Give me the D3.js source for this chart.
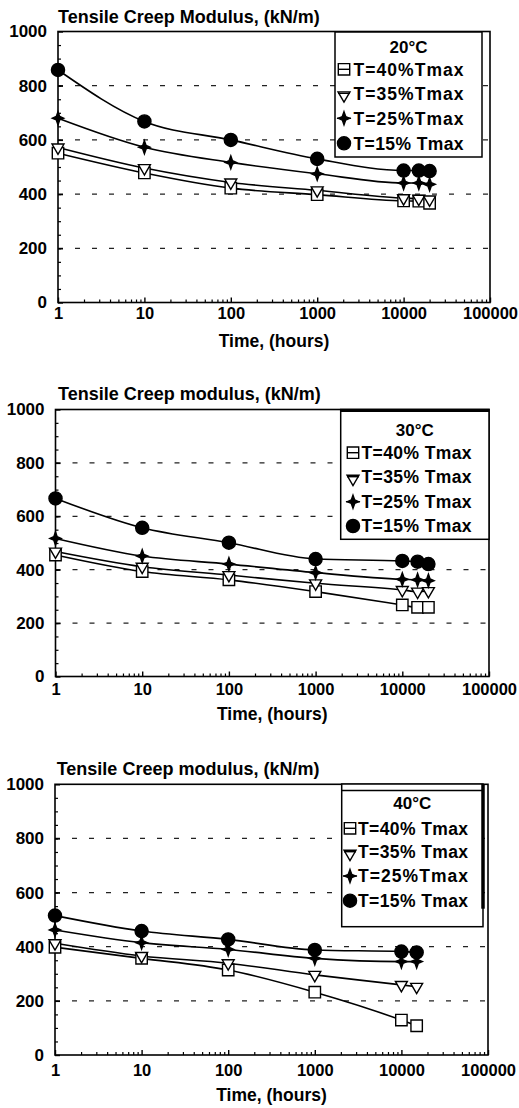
<!DOCTYPE html>
<html>
<head>
<meta charset="utf-8">
<script src="https://cdn.jsdelivr.net/npm/d3@7"></script>
<style>
  html, body { margin: 0; padding: 0; background: #fff; }
  svg { display: block; font-family: "Liberation Sans", Arial, Helvetica, sans-serif; font-weight: bold; }
</style>
</head>
<body>
<svg id="chart" width="519" height="1108"></svg>
<script>
// Elapsed time of each reading (hours)
const hours20 = [1, 10, 100, 1000, 10000, 15000, 20000];
const hours30 = [1, 10, 100, 1000, 10000, 15000, 20000];
const hours40 = [1, 10, 100, 1000, 10000, 15000];

// Tensile creep modulus (kN/m) at 20°C for each load level
const mod20_load40 = [551, 478, 422, 398, 375, 374, 366];
const mod20_load35 = [572, 496, 443, 414, 385, 383, 380];
const mod20_load25 = [680, 573, 517, 475, 441, 441, 436];
const mod20_load15 = [858, 668, 600, 530, 487, 487, 485];

// Tensile creep modulus (kN/m) at 30°C
const mod30_load40 = [455, 393, 362, 318, 268, 259, 259];
const mod30_load35 = [468, 411, 380, 349, 324, 318, 320];
const mod30_load25 = [517, 451, 421, 389, 364, 362, 359];
const mod30_load15 = [667, 557, 501, 440, 433, 430, 421];

// Tensile creep modulus (kN/m) at 40°C
const mod40_load40 = [398, 357, 314, 232, 129, 108];
const mod40_load35 = [413, 366, 339, 296, 259, 252];
const mod40_load25 = [462, 415, 390, 357, 345, 345];
const mod40_load15 = [515, 458, 427, 388, 382, 379];

// Axis ticks
const xTickValues = [1, 10, 100, 1000, 10000, 100000];
const xTickLabels = ["1", "10", "100", "1000", "10000", "100000"];
const yTickValues = [0, 200, 400, 600, 800, 1000];
const yTickLabels = ["0", "200", "400", "600", "800", "1000"];
const gridValues = [200, 400, 600, 800];

// Text
const headings = ["20°C", "30°C", "40°C"];
const yTitles = ["Tensile Creep Modulus, (kN/m)", "Tensile Creep modulus, (kN/m)", "Tensile Creep modulus, (kN/m)"];
const xTitle = "Time, (hours)";
const legend20 = ["T=40%Tmax", "T=35%Tmax", "T=25%Tmax", "T=15% Tmax"];
const legend30 = ["T=40% Tmax", "T=35% Tmax", "T=25% Tmax", "T=15% Tmax"];
const legend40 = ["T=40% Tmax", "T=35% Tmax", "T=25%Tmax", "T=15% Tmax"];

// Four-pointed star marker
const symbolStar4 = {
  draw(ctx, size) {
    const r = Math.sqrt(size) * 0.62;
    const ri = r * 0.3;
    ctx.moveTo(0, -r * 1.15);
    ctx.lineTo(ri, -ri);
    ctx.lineTo(r, 0);
    ctx.lineTo(ri, ri);
    ctx.lineTo(0, r * 1.15);
    ctx.lineTo(-ri, ri);
    ctx.lineTo(-r, 0);
    ctx.lineTo(-ri, -ri);
    ctx.closePath();
  }
};

// Marker styles, in drawing order (40 %, 35 %, 25 %, 15 %)
const markerStyles = [
  { type: d3.symbolSquare, size: 130, fill: "#fff", rotate: 0 },
  { type: d3.symbolTriangle, size: 62, fill: "#fff", rotate: 180 },
  { type: symbolStar4, size: 85, fill: "#000", rotate: 0 },
  { type: d3.symbolCircle, size: 135, fill: "#000", rotate: 0 }
];

const panels = [
  {
    hours: hours20,
    series: [mod20_load40, mod20_load35, mod20_load25, mod20_load15],
    labels: legend20, heading: headings[0], title: yTitles[0],
    box: { left: 58, right: 490, top: 31.5, bottom: 302.5 },
    titleX: 58, titleY: 22.5,
    tickPadX: 5, xTitleY: 347,
    legend: { x0: 335, x1: 482, y0: 32, y1: 157, headY: 47, rows: [69.3, 93.3, 118.3, 143.3], symX: 344, textX: 353.5, style: "plain" }
  },
  {
    hours: hours30,
    series: [mod30_load40, mod30_load35, mod30_load25, mod30_load15],
    labels: legend30, heading: headings[1], title: yTitles[1],
    box: { left: 55.5, right: 489, top: 409.5, bottom: 676.5 },
    titleX: 58, titleY: 400,
    tickPadX: 7, xTitleY: 720,
    legend: { x0: 340.7, x1: 489, y0: 409.5, y1: 539.3, headY: 430, rows: [452.7, 476.7, 501.7, 526], symX: 353, textX: 361.5, style: "thickTop" }
  },
  {
    hours: hours40,
    series: [mod40_load40, mod40_load35, mod40_load25, mod40_load15],
    labels: legend40, heading: headings[2], title: yTitles[2],
    box: { left: 55, right: 488, top: 784.3, bottom: 1055 },
    titleX: 56.7, titleY: 775,
    tickPadX: 9, xTitleY: 1101,
    legend: { x0: 341.7, x1: 483, y0: 784, y1: 926.7, headY: 803, rows: [828.3, 851.7, 876, 900.7], symX: 350, textX: 358, style: "double" }
  }
];

const svg = d3.select("#chart");

panels.forEach(p => {
  const b = p.box;
  const g = svg.append("g");

  const x = d3.scaleLog().domain([1, 100000]).range([b.left, b.right]);
  const y = d3.scaleLinear().domain([0, 1000]).range([b.bottom, b.top]);

  // Dashed horizontal gridlines
  g.append("g").selectAll("line").data(gridValues).join("line")
    .attr("x1", b.left).attr("x2", b.right)
    .attr("y1", d => y(d)).attr("y2", d => y(d))
    .attr("stroke", "#222").attr("stroke-width", 1.3)
    .attr("stroke-dasharray", "5,12");

  // Minor ticks on the log time axis
  const minorX = [];
  [1, 10, 100, 1000, 10000].forEach(dec => { for (let k = 2; k <= 9; k++) minorX.push(dec * k); });
  g.append("g").attr("transform", `translate(0,${b.bottom})`)
    .call(d3.axisBottom(x).tickValues(minorX).tickSize(-3).tickFormat(""))
    .call(a => a.select(".domain").remove())
    .call(a => a.selectAll("line").attr("stroke", "#000").attr("stroke-width", 1.2));

  // Major time ticks and labels
  g.append("g").attr("transform", `translate(0,${b.bottom})`)
    .call(d3.axisBottom(x).tickValues(xTickValues).tickSize(-5).tickPadding(p.tickPadX)
      .tickFormat((d, i) => xTickLabels[i]))
    .call(a => a.select(".domain").remove())
    .call(a => a.selectAll("line").attr("stroke", "#000").attr("stroke-width", 1.4))
    .call(a => a.selectAll("text").attr("fill", "#000").attr("font-size", 16.5)
      .attr("font-family", null).attr("font-weight", "bold"));

  // Minor ticks on the modulus axis
  g.append("g").attr("transform", `translate(${b.left},0)`)
    .call(d3.axisLeft(y).tickValues(d3.range(50, 1000, 50)).tickSize(-3).tickFormat(""))
    .call(a => a.select(".domain").remove())
    .call(a => a.selectAll("line").attr("stroke", "#000").attr("stroke-width", 1.2));

  // Major modulus ticks and labels
  g.append("g").attr("transform", `translate(${b.left},0)`)
    .call(d3.axisLeft(y).tickValues(yTickValues).tickSize(-5).tickPadding(11)
      .tickFormat((d, i) => yTickLabels[i]))
    .call(a => a.select(".domain").remove())
    .call(a => a.selectAll("line").attr("stroke", "#000").attr("stroke-width", 1.4))
    .call(a => a.selectAll("text").attr("fill", "#000").attr("font-size", 17)
      .attr("font-family", null).attr("font-weight", "bold"));

  // Plot frame
  g.append("rect")
    .attr("x", b.left).attr("y", b.top)
    .attr("width", b.right - b.left).attr("height", b.bottom - b.top)
    .attr("fill", "none").attr("stroke", "#000").attr("stroke-width", 1.6);

  // Axis titles
  g.append("text")
    .attr("x", p.titleX).attr("y", p.titleY)
    .attr("font-size", 18)
    .text(p.title);
  g.append("text")
    .attr("x", (b.left + b.right) / 2).attr("y", p.xTitleY)
    .attr("text-anchor", "middle")
    .attr("font-size", 17.5)
    .text(xTitle);

  // Curves through the readings
  const line = d3.line()
    .x(d => x(d.t)).y(d => y(d.v))
    .curve(d3.curveMonotoneX);

  const seriesData = p.series.map(vals => vals.map((v, i) => ({ t: p.hours[i], v })));

  g.append("g").selectAll("path").data(seriesData).join("path")
    .attr("d", line)
    .attr("fill", "none").attr("stroke", "#000").attr("stroke-width", 1.6);

  // Markers
  seriesData.forEach((pts, si) => {
    const st = markerStyles[si];
    const sym = d3.symbol().type(st.type).size(st.size);
    g.append("g").selectAll("path").data(pts).join("path")
      .attr("d", sym)
      .attr("transform", d => `translate(${x(d.t)},${y(d.v)}) rotate(${st.rotate})`)
      .attr("fill", st.fill).attr("stroke", "#000").attr("stroke-width", 1.4);
  });

  // Legend
  const L = p.legend;
  const lg = g.append("g");
  lg.append("rect")
    .attr("x", L.x0).attr("y", L.y0)
    .attr("width", L.x1 - L.x0).attr("height", L.y1 - L.y0)
    .attr("fill", "#fff").attr("stroke", "#000").attr("stroke-width", 1.5);
  if (L.style === "thickTop") {
    lg.append("line").attr("x1", L.x0).attr("x2", L.x1).attr("y1", L.y0 + 1).attr("y2", L.y0 + 1)
      .attr("stroke", "#000").attr("stroke-width", 3);
  }
  if (L.style === "double") {
    lg.append("line").attr("x1", L.x0).attr("x2", L.x1).attr("y1", L.y0 + 6.5).attr("y2", L.y0 + 6.5)
      .attr("stroke", "#000").attr("stroke-width", 1.5);
    lg.append("line").attr("x1", L.x1).attr("x2", L.x1).attr("y1", L.y0).attr("y2", L.y1 - 18)
      .attr("stroke", "#000").attr("stroke-width", 3.5);
  }
  lg.append("text")
    .attr("x", (L.x0 + L.x1) / 2).attr("y", L.headY).attr("dy", "0.36em")
    .attr("text-anchor", "middle").attr("font-size", 17)
    .text(p.heading);

  p.labels.forEach((lab, i) => {
    const st = markerStyles[i];
    const cy = L.rows[i];
    const half = i < 2 ? 6 : 7;
    lg.append("line")
      .attr("x1", L.symX - half).attr("x2", L.symX + half)
      .attr("y1", cy).attr("y2", cy)
      .attr("stroke", "#000").attr("stroke-width", 1.4);
    const sym = d3.symbol().type(st.type).size(st.size);
    const dy = i === 1 ? 2 : 0;
    lg.append("path")
      .attr("d", sym)
      .attr("transform", `translate(${L.symX},${cy + dy}) rotate(${st.rotate})`)
      .attr("fill", st.fill === "#fff" ? "none" : st.fill)
      .attr("stroke", "#000").attr("stroke-width", 1.4);
    lg.append("text")
      .attr("x", L.textX).attr("y", cy).attr("dy", "0.36em")
      .attr("font-size", 17.5).attr("textLength", 110).attr("lengthAdjust", "spacing")
      .text(lab);
  });
});
</script>
</body>
</html>
